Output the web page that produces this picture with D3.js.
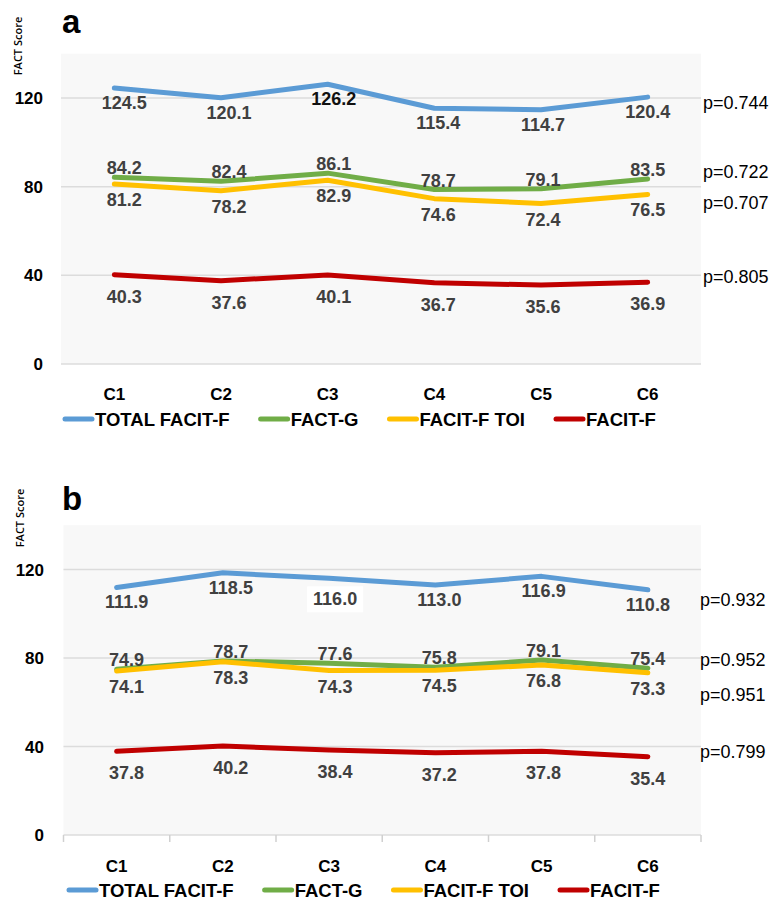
<!DOCTYPE html>
<html>
<head>
<meta charset="utf-8">
<script src="https://cdn.jsdelivr.net/npm/d3@7"></script>
<style>
  body { margin: 0; background: #fff; }
  text { font-family: "Liberation Sans", Arial, sans-serif; }
</style>
</head>
<body>
<div id="chart"></div>
<script>
// categories and series names
var categories = ["C1", "C2", "C3", "C4", "C5", "C6"];
var seriesNames = ["TOTAL FACIT-F", "FACT-G", "FACIT-F TOI", "FACIT-F"];
var yTicks = [0, 40, 80, 120];

// panel a values
var totalA = [124.5, 120.1, 126.2, 115.4, 114.7, 120.4];
var factgA = [84.2, 82.4, 86.1, 78.7, 79.1, 83.5];
var toiA   = [81.2, 78.2, 82.9, 74.6, 72.4, 76.5];
var facitA = [40.3, 37.6, 40.1, 36.7, 35.6, 36.9];
var pA = ["p=0.744", "p=0.722", "p=0.707", "p=0.805"];

// panel b values
var totalB = [111.9, 118.5, 116.0, 113.0, 116.9, 110.8];
var factgB = [74.9, 78.7, 77.6, 75.8, 79.1, 75.4];
var toiB   = [74.1, 78.3, 74.3, 74.5, 76.8, 73.3];
var facitB = [37.8, 40.2, 38.4, 37.2, 37.8, 35.4];
var pB = ["p=0.932", "p=0.952", "p=0.951", "p=0.799"];

var colors = ["#5b9bd5", "#70ad47", "#ffc000", "#c00000"];
// baseline offset of value labels relative to the line, per series
var labelDy = [21, -3, 22, 28];

var svg = d3.select("#chart").append("svg")
  .attr("width", 771)
  .attr("height", 902);

var panels = [
  { letter: "a", series: [totalA, factgA, toiA, facitA], p: pA,
    left: 61, right: 701, y0: 364, y120: 98, letterY: 33, titleY: 46, titleX: 18,
    tickX: 43, catY: 400, legY: 426, legX: 65, pX: 703, pDy: [12, -1, 15, 1],
    ticks: false, blackLabel: [0, 2], boxLabel: null },
  { letter: "b", series: [totalB, factgB, toiB, facitB], p: pB,
    left: 63.5, right: 701, y0: 835, y120: 569.5, letterY: 510, titleY: 518, titleX: 20,
    tickX: 44, catY: 872, legY: 897, legX: 69, pX: 700, pDy: [16, -2, 28, 1],
    ticks: true, blackLabel: null, boxLabel: [0, 2] }
];

panels.forEach(function(P) {
  var g = svg.append("g");

  var x = d3.scaleBand()
    .domain(categories)
    .range([P.left, P.right]);

  var k = (P.y0 - P.y120) / 120;
  var y = d3.scaleLinear()
    .domain([0, 140])
    .range([P.y0, P.y0 - 140 * k]);

  // plot background
  g.append("rect")
    .attr("x", P.left)
    .attr("y", y(140))
    .attr("width", P.right - P.left)
    .attr("height", y(0) - y(140))
    .attr("fill", "#f8f8f8");

  // gridlines
  g.selectAll(".grid")
    .data(yTicks)
    .enter()
    .append("line")
      .attr("x1", P.left)
      .attr("x2", P.right)
      .attr("y1", function(d) { return y(d); })
      .attr("y2", function(d) { return y(d); })
      .attr("stroke", "#dcdcdc")
      .attr("stroke-width", 1.5);

  // y tick labels
  g.selectAll(".ytick")
    .data(yTicks)
    .enter()
    .append("text")
      .attr("x", P.tickX)
      .attr("y", function(d) { return y(d) + 6; })
      .attr("text-anchor", "end")
      .attr("font-size", "17px")
      .attr("font-weight", "bold")
      .attr("fill", "#000")
      .text(function(d) { return d; });

  // x ticks (panel b only)
  if (P.ticks) {
    var edges = categories.map(function(c) { return x(c); }).concat([P.right]);
    g.selectAll(".xtick")
      .data(edges)
      .enter()
      .append("line")
        .attr("x1", function(d) { return d; })
        .attr("x2", function(d) { return d; })
        .attr("y1", y(0))
        .attr("y2", y(0) + 7)
        .attr("stroke", "#d0d0d0")
        .attr("stroke-width", 1.5);
  }

  // category labels
  g.selectAll(".cat")
    .data(categories)
    .enter()
    .append("text")
      .attr("x", function(d) { return x(d) + x.bandwidth() / 2; })
      .attr("y", P.catY)
      .attr("text-anchor", "middle")
      .attr("font-size", "17px")
      .attr("font-weight", "bold")
      .text(function(d) { return d; });

  // lines
  var line = d3.line()
    .x(function(d, i) { return x(categories[i]) + x.bandwidth() / 2; })
    .y(function(d) { return y(d); });

  P.series.forEach(function(s, si) {
    g.append("path")
      .datum(s)
      .attr("d", line)
      .attr("fill", "none")
      .attr("stroke", colors[si])
      .attr("stroke-width", 5)
      .attr("stroke-linejoin", "round")
      .attr("stroke-linecap", "round");
  });

  // value labels
  P.series.forEach(function(s, si) {
    s.forEach(function(v, i) {
      var tx = x(categories[i]) + x.bandwidth() / 2 + 10 - 2 * i;
      var ty = y(v) + labelDy[si];
      var isBlack = P.blackLabel && P.blackLabel[0] === si && P.blackLabel[1] === i;
      var isBox = P.boxLabel && P.boxLabel[0] === si && P.boxLabel[1] === i;
      if (isBox) ty += 6;
      var t = g.append("text")
        .attr("x", tx)
        .attr("y", ty)
        .attr("text-anchor", "middle")
        .attr("font-size", "18px")
        .attr("font-weight", "bold")
        .attr("fill", isBlack ? "#111" : "#404040")
        .text(v.toFixed(1));
      if (isBox) {
        var bb = t.node().getBBox();
        g.insert("rect", function() { return t.node(); })
          .attr("x", bb.x - 6)
          .attr("y", bb.y - 3)
          .attr("width", bb.width + 12)
          .attr("height", bb.height + 6)
          .attr("fill", "#fff");
      }
    });
  });

  // p values
  P.p.forEach(function(p, si) {
    var s = P.series[si];
    g.append("text")
      .attr("x", P.pX)
      .attr("y", y(s[s.length - 1]) + P.pDy[si])
      .attr("font-size", "18px")
      .attr("fill", "#000")
      .text(p);
  });

  // panel letter
  g.append("text")
    .attr("x", 62)
    .attr("y", P.letterY)
    .attr("font-size", "33px")
    .attr("font-weight", "bold")
    .text(P.letter);

  // axis title
  g.append("text")
    .attr("transform", "translate(" + (P.titleX + 4) + "," + P.titleY + ") rotate(-90)")
    .attr("text-anchor", "middle")
    .style("font-family", "'Open Sans', sans-serif")
    .attr("font-size", "11px")
    .attr("font-weight", 600)
    .text("FACT Score");

  // legend
  var lx = P.legX;
  seriesNames.forEach(function(name, si) {
    g.append("line")
      .attr("x1", lx)
      .attr("x2", lx + 27)
      .attr("y1", P.legY - 7)
      .attr("y2", P.legY - 7)
      .attr("stroke", colors[si])
      .attr("stroke-width", 5)
      .attr("stroke-linecap", "round");
    var t = g.append("text")
      .attr("x", lx + 30)
      .attr("y", P.legY)
      .attr("font-size", "18.5px")
      .attr("font-weight", "bold")
      .text(name);
    lx += 30 + t.node().getComputedTextLength() + 31;
  });
});
</script>
</body>
</html>
